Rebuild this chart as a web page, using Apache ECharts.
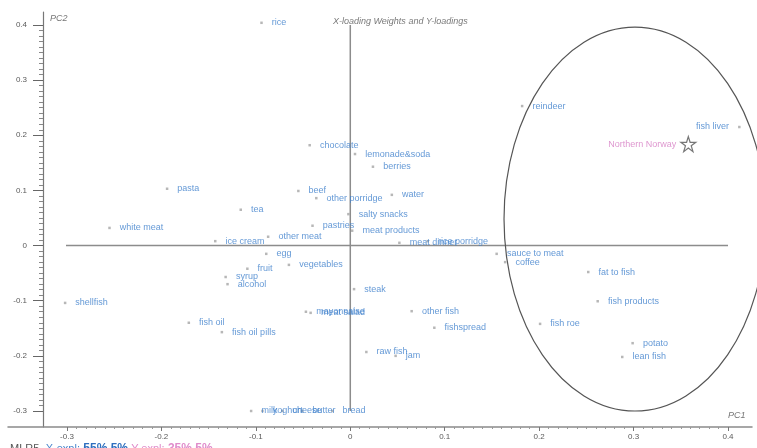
<!DOCTYPE html>
<html>
<head>
<meta charset="utf-8">
<script src="https://cdn.jsdelivr.net/npm/echarts@6/dist/echarts.min.js"></script>
<style>
  html, body { margin: 0; padding: 0; background: #fff; }
  #chart { width: 757px; height: 448px; }
</style>
</head>
<body>
<div id="chart"></div>
<script>
// Food variables: loading weights on PC1 / PC2
const foods = [
  'rice', 'chocolate', 'lemonade&soda', 'berries', 'beef', 'other porridge', 'water',
  'pasta', 'tea', 'white meat', 'salty snacks', 'pastries', 'meat products', 'other meat',
  'ice cream', 'egg', 'vegetables', 'fruit', 'syrup', 'alcohol', 'meat dinner',
  'rice porridge', 'sauce to meat', 'coffee', 'fat to fish', 'fish products', 'fish roe',
  'potato', 'lean fish', 'other fish', 'fishspread', 'raw fish', 'jam', 'steak',
  'mayonnaise', 'meat salad', 'shellfish', 'fish oil', 'fish oil pills',
  'milk', 'yoghurt', 'cheese', 'butter', 'bread', 'reindeer', 'fish liver'
];
const pc1 = [
  -0.094, -0.043, 0.005, 0.024, -0.055, -0.036, 0.044,
  -0.194, -0.116, -0.255, -0.002, -0.040, 0.002, -0.087,
  -0.143, -0.089, -0.065, -0.109, -0.132, -0.130, 0.052,
  0.082, 0.155, 0.164, 0.252, 0.262, 0.201,
  0.299, 0.288, 0.065, 0.089, 0.017, 0.048, 0.004,
  -0.047, -0.042, -0.302, -0.171, -0.136,
  -0.105, -0.093, -0.072, -0.051, -0.019, 0.182, 0.412
];
const pc2 = [
  0.404, 0.182, 0.166, 0.143, 0.099, 0.086, 0.092,
  0.103, 0.065, 0.032, 0.057, 0.036, 0.027, 0.016,
  0.008, -0.015, -0.035, -0.042, -0.057, -0.070, 0.005,
  0.008, -0.015, -0.030, -0.048, -0.101, -0.142,
  -0.177, -0.202, -0.119, -0.149, -0.193, -0.200, -0.079,
  -0.120, -0.122, -0.104, -0.140, -0.157,
  -0.300, -0.300, -0.300, -0.300, -0.300, 0.253, 0.215
];

// Y-loading: the region response
const regionName = 'Northern Norway';
const regionPC1 = 0.358;
const regionPC2 = 0.184;

// Grouping ellipse around the region and its fish-related foods: centre and radii (PC units)
const ellipseCentre = [0.3015, 0.048];
const ellipseRadii = [0.1387, 0.348];

// Axis ranges
const axisMin = -0.3;
const axisMax = 0.4;
const axisStep = 0.1;

const leftLabelled = new Set(['fish liver']);

const labelBlue = '#3d7fcc';
const tickGrey = '#5a5a5a';
const fontFam = '"Liberation Sans", Arial, sans-serif';

const starPath = 'path://M50,2 L61,36 L97,36 L68,57 L79,92 L50,71 L21,92 L32,57 L3,36 L39,36 Z';

const chart = echarts.init(document.getElementById('chart'));

chart.setOption({
  animation: false,
  backgroundColor: '#fff',
  textStyle: { fontFamily: fontFam },
  title: {
    text: 'X-loading Weights and Y-loadings',
    left: 328, top: 12,
    textStyle: { fontSize: 9, fontWeight: 'normal', color: '#7a7a7a', fontStyle: 'italic', fontFamily: fontFam }
  },
  grid: [
    { left: 67, right: 29, top: 25, bottom: 37 },
    { left: 8, right: 5, top: 12, bottom: 21 }
  ],
  xAxis: [
    {
      gridIndex: 0, type: 'value', min: axisMin, max: axisMax, interval: axisStep,
      position: 'bottom', offset: 16,
      axisLine: { show: false, onZero: false },
      axisTick: { show: true, length: 4, lineStyle: { color: '#777' } },
      minorTick: { show: true, splitNumber: 10, length: 2, lineStyle: { color: '#999' } },
      axisLabel: { fontSize: 8, color: tickGrey, margin: 6, fontFamily: fontFam },
      splitLine: { show: false }
    },
    {
      gridIndex: 1, type: 'value', min: 0, max: 1, position: 'bottom',
      axisLine: { show: true, onZero: false, lineStyle: { color: '#8a8a8a', width: 1.5 } },
      axisTick: { show: false }, axisLabel: { show: false }, splitLine: { show: false }
    }
  ],
  yAxis: [
    {
      gridIndex: 0, type: 'value', min: axisMin, max: axisMax, interval: axisStep,
      position: 'left', offset: 24,
      axisLine: { show: false, onZero: false },
      axisTick: { show: true, length: 10, lineStyle: { color: '#666' } },
      minorTick: { show: true, splitNumber: 10, length: 4, lineStyle: { color: '#888' } },
      axisLabel: { fontSize: 8, color: tickGrey, margin: 16, fontFamily: fontFam },
      splitLine: { show: false }
    },
    {
      gridIndex: 1, type: 'value', min: 0, max: 1, position: 'left', offset: -35,
      axisLine: { show: true, onZero: false, lineStyle: { color: '#777', width: 1.2 } },
      axisTick: { show: false }, axisLabel: { show: false }, splitLine: { show: false }
    }
  ],
  graphic: [
    {
      type: 'text', left: 50, top: 14,
      style: { text: 'PC2', fill: '#777', font: 'italic 9px ' + fontFam }
    },
    {
      type: 'text', left: 728, top: 411,
      style: { text: 'PC1', fill: '#777', font: 'italic 9px ' + fontFam }
    },
    {
      type: 'text', left: 10, top: 443,
      style: {
        text: '{g|MLR5,} {b|X-expl:} {bb|55%,5%} {p|Y-expl:} {pb|35%,5%}',
        rich: {
          g: { fontSize: 11, fill: '#555', fontFamily: fontFam },
          b: { fontSize: 11, fill: '#4a86cc', fontFamily: fontFam },
          bb: { fontSize: 12, fill: '#2e6fbf', fontWeight: 'bold', fontFamily: fontFam },
          p: { fontSize: 11, fill: '#e08ccb', fontFamily: fontFam },
          pb: { fontSize: 12, fill: '#e08ccb', fontWeight: 'bold', fontFamily: fontFam }
        }
      }
    }
  ],
  series: [
    {
      // horizontal zero line
      type: 'line', xAxisIndex: 0, yAxisIndex: 0, silent: true, symbol: 'none', z: 1,
      data: [[-0.305, 0], [axisMax, 0]],
      lineStyle: { color: '#8c8c8c', width: 1.5 }
    },
    {
      // vertical zero line
      type: 'line', xAxisIndex: 0, yAxisIndex: 0, silent: true, symbol: 'none', z: 1,
      data: [[0, axisMax], [0, axisMin]],
      lineStyle: { color: '#8c8c8c', width: 1.5 }
    },
    {
      type: 'custom', xAxisIndex: 0, yAxisIndex: 0, silent: true, z: 2, clip: false,
      data: [[ellipseCentre[0], ellipseCentre[1], ellipseRadii[0], ellipseRadii[1]]],
      renderItem: function (params, api) {
        const c = api.coord([api.value(0), api.value(1)]);
        const s = api.size([api.value(2), api.value(3)]);
        return {
          type: 'ellipse',
          shape: { cx: c[0], cy: c[1], rx: s[0], ry: s[1] },
          style: { fill: 'none', stroke: '#555', lineWidth: 1.2 }
        };
      }
    },
    {
      type: 'scatter', xAxisIndex: 0, yAxisIndex: 0, clip: false, z: 3,
      symbol: 'rect', symbolSize: 2.5,
      itemStyle: { color: '#a5a5a5' },
      label: {
        show: true, formatter: '{b}', fontSize: 9, color: labelBlue,
        distance: 9, fontFamily: fontFam
      },
      data: foods.map((n, i) => ({
        name: n,
        value: [pc1[i], pc2[i]],
        label: { position: leftLabelled.has(n) ? 'left' : 'right' }
      }))
    },
    {
      type: 'scatter', xAxisIndex: 0, yAxisIndex: 0, clip: false, z: 4,
      symbol: starPath, symbolSize: 15,
      itemStyle: { color: '#fff', borderColor: '#555', borderWidth: 1.2 },
      label: {
        show: true, formatter: '{b}', position: 'left', distance: 4,
        fontSize: 9, color: '#d67cc3', fontFamily: fontFam
      },
      data: [{ name: regionName, value: [regionPC1, regionPC2] }]
    }
  ]
});
</script>
</body>
</html>
